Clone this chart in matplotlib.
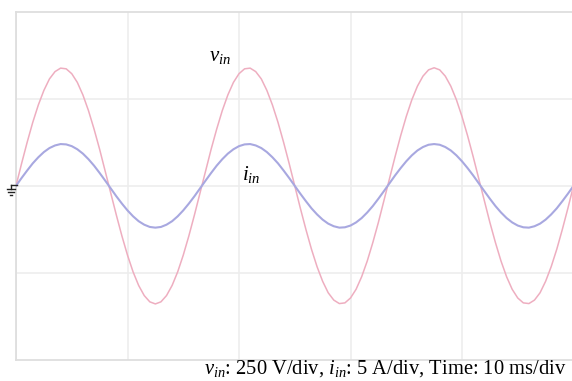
import numpy as np
import matplotlib
matplotlib.use("Agg")
import matplotlib.pyplot as plt
from matplotlib.lines import Line2D

plt.rcParams['mathtext.fontset'] = 'custom'
plt.rcParams['mathtext.rm'] = 'Liberation Serif'
plt.rcParams['mathtext.it'] = 'Liberation Serif:italic'
plt.rcParams['font.family'] = ['Liberation Serif', 'DejaVu Serif']

# Time samples (ms), 0.5 ms apart, over 5 divisions of 10 ms
time_ms = np.linspace(0, 50, 101)

# Input voltage (V)
vin = [0, 64, 125, 182, 232, 274, 307, 328, 338, 336,
       322, 297, 261, 216, 163, 105, 42, -21, -84, -144,
       -199, -247, -286, -315, -333, -339, -333, -315, -286, -247,
       -199, -144, -84, -21, 42, 105, 163, 216, 261, 297,
       322, 336, 338, 328, 307, 274, 232, 182, 125, 64,
       0, -64, -125, -182, -232, -274, -307, -328, -338, -336,
       -322, -297, -261, -216, -163, -105, -42, 21, 84, 144,
       199, 247, 286, 315, 333, 339, 333, 315, 286, 247,
       199, 144, 84, 21, -42, -105, -163, -216, -261, -297,
       -322, -336, -338, -328, -307, -274, -232, -182, -125, -64,
       0]

# Input current (A)
iin = [0, 0.45, 0.88, 1.29, 1.64, 1.94, 2.17, 2.32, 2.40, 2.38,
       2.28, 2.10, 1.85, 1.53, 1.16, 0.74, 0.30, -0.15, -0.60, -1.02,
       -1.41, -1.75, -2.03, -2.23, -2.36, -2.40, -2.36, -2.23, -2.03, -1.75,
       -1.41, -1.02, -0.60, -0.15, 0.30, 0.74, 1.16, 1.53, 1.85, 2.10,
       2.28, 2.38, 2.40, 2.32, 2.17, 1.94, 1.64, 1.29, 0.88, 0.45,
       0, -0.45, -0.88, -1.29, -1.64, -1.94, -2.17, -2.32, -2.40, -2.38,
       -2.28, -2.10, -1.85, -1.53, -1.16, -0.74, -0.30, 0.15, 0.60, 1.02,
       1.41, 1.75, 2.03, 2.23, 2.36, 2.40, 2.36, 2.23, 2.03, 1.75,
       1.41, 1.02, 0.60, 0.15, -0.30, -0.74, -1.16, -1.53, -1.85, -2.10,
       -2.28, -2.38, -2.40, -2.32, -2.17, -1.94, -1.64, -1.29, -0.88, -0.45,
       0]

v_per_div = 250
a_per_div = 5
ms_per_div = 10

W, H = 572, 381
fig = plt.figure(figsize=(W / 100, H / 100), dpi=100)
fig.patch.set_facecolor('white')

left, right = 16, 573.5
top, bottom = 11.7, 360
ax = fig.add_axes([left / W, 1 - bottom / H, (right - left) / W, (bottom - top) / H])
ax.set_xlim(0, 50)
ax.set_ylim(-2, 2)
ax.set_xticks(np.arange(0, 51, ms_per_div))
ax.set_yticks([-1, 0, 1])
ax.grid(True, color='#ededed', linewidth=1.2)
ax.tick_params(left=False, bottom=False, labelleft=False, labelbottom=False)
for s in ['left', 'top', 'bottom']:
    ax.spines[s].set_color('#dedede')
    ax.spines[s].set_linewidth(1.3)
ax.spines['right'].set_visible(False)

ax.plot(time_ms, np.array(vin) / v_per_div, color='#eeaec0', linewidth=1.1, zorder=3)
ax.plot(time_ms, np.array(iin) / a_per_div, color='#a8a8e0', linewidth=1.5, zorder=4)

ax.text(220.5 / W, 1 - 56.5 / H, r'$v_{in}$', transform=fig.transFigure,
        ha='center', va='center', fontsize=15)
ax.text(251 / W, 1 - 174 / H, r'$i_{in}$', transform=fig.transFigure,
        ha='center', va='center', fontsize=15)

fig.text(385 / W, 1 - 369 / H,
         r'$v_{in}$: 250 V/div, $i_{in}$: 5 A/div, Time: 10 ms/div',
         ha='center', va='center', fontsize=14.8)

# ground marker at the zero level
def px(x, y):
    return (x / W, 1 - y / H)

gnd = [
    [(11, 184.7), (17, 184.7)],
    [(11, 184.7), (11, 189.5)],
    [(6.5, 189.5), (15, 189.5)],
    [(8, 192.2), (13.5, 192.2)],
    [(9.5, 194.8), (12, 194.8)],
]
for seg in gnd:
    (x0, y0), (x1, y1) = seg
    p0, p1 = px(x0, y0), px(x1, y1)
    fig.add_artist(Line2D([p0[0], p1[0]], [p0[1], p1[1]], color='#222222',
                          linewidth=1.0, transform=fig.transFigure))

fig.savefig('out.png', dpi=100, facecolor='white')
